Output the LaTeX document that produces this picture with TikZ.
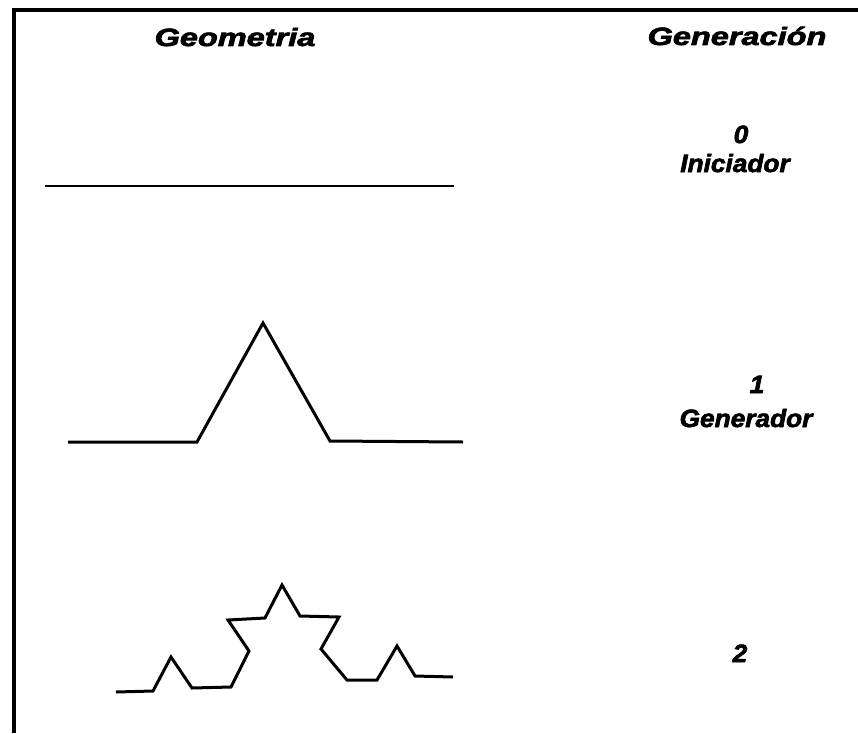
\documentclass[tikz,border=0pt]{standalone}
\usepackage{fontspec}
\usepackage{graphicx}
\setmainfont{Liberation Sans}
\newfontfamily\negrita{Liberation Sans Bold Italic}[FakeBold=2.5]
\usetikzlibrary{positioning}

\newcommand{\estirar}[2]{\scalebox{#1}[1]{#2}}

\begin{document}
\begin{tikzpicture}[x=1pt,y=-1pt,
  encabezado/.style={font=\fontsize{25}{25}\selectfont\negrita, anchor=base, inner sep=0pt},
  etiqueta/.style={font=\fontsize{25}{25}\selectfont\negrita, anchor=base, inner sep=0pt},
  curva/.style={line width=3pt, line join=miter}]
\useasboundingbox (0,0) rectangle (858,733);

% Marco
\draw[line width=3.5pt] (858,10) -- (14,10) -- (14,733);

% Encabezados
\node[encabezado] (geometria) at (235,46) {\estirar{1.3}{Geometria}};
\node[encabezado] (generacion) at (737,45) {\estirar{1.3}{Generación}};

% Generacion 0: iniciador
\draw[curva, line width=2.5pt] (45,186) -- (454,186);
\node[etiqueta] (gen0) at (741,143) {\estirar{1.05}{0}};
\node[etiqueta] (iniciador) at (735,172) {\estirar{1.05}{Iniciador}};

% Generacion 1: generador
\draw[curva] (68,442) -- (197,442) -- (263,323) -- (330,441) -- (463,442);
\node[etiqueta] (gen1) at (757,393) {\estirar{1.05}{1}};
\node[etiqueta] (generador) at (746,427) {\estirar{1.05}{Generador}};

% Generacion 2
\draw[curva] (116,692) -- (153,691) -- (171,657) -- (192,688) -- (231,687)
  -- (249,651) -- (228,620) -- (265,618) -- (282,585) -- (300,616)
  -- (339,617) -- (321,649) -- (347,680) -- (377,680) -- (397,646)
  -- (415,676) -- (453,677);
\node[etiqueta] (gen2) at (740,662) {\estirar{1.05}{2}};
\end{tikzpicture}
\end{document}
